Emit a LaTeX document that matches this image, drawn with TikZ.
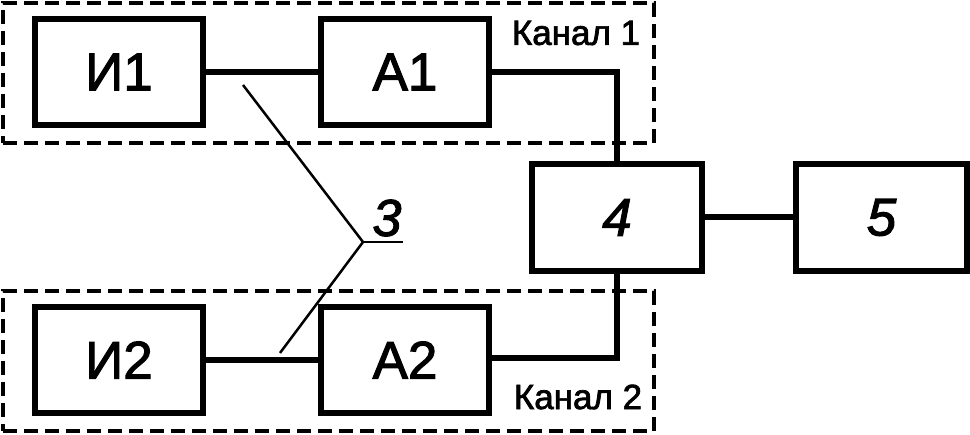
\documentclass[tikz,border=0pt]{standalone}
\usepackage{fontspec}
\setmainfont{Liberation Sans}[FakeBold=2]
\usetikzlibrary{calc}
\begin{document}
\begin{tikzpicture}[x=1pt,y=-1pt,
  blk/.style={draw, line width=6pt, inner sep=0pt, minimum width=168pt, minimum height=106pt, font=\fontsize{53}{60}\selectfont},
  chan/.style={draw, line width=4pt, dash pattern=on 14pt off 7pt, inner sep=0pt, minimum width=651pt, minimum height=140pt},
  conn/.style={line width=6pt},
  leader/.style={line width=2.5pt},
  lbl/.style={inner sep=0pt, font=\fontsize{35}{40}\selectfont}]
\useasboundingbox (0,0) rectangle (970,435);
% channel frames
\node[chan] (k1) at (328.5,73) {};
\node[chan] (k2) at (328.5,361) {};
\node[lbl] (t1) at (576,33) {Канал 1};
\node[lbl] (t2) at (578,397) {Канал 2};
% blocks
\node[blk] (i1) at (119,72) {И1};
\node[blk] (a1) at (405,72) {А1};
\node[blk] (i2) at (119,360) {И2};
\node[blk] (a2) at (405,360) {А2};
\node[blk, minimum width=170pt, minimum height=107pt, font=\fontsize{53}{60}\selectfont\itshape] (b4) at (617,217.5) {4};
\node[blk, minimum width=171pt, minimum height=107pt, font=\fontsize{53}{60}\selectfont\itshape] (b5) at (881.5,217.5) {5};
% connectors
\draw[conn] (i1) -- (a1);
\draw[conn] (i2) -- (a2);
\draw[conn] (a1.east) -| (b4.north);
\draw[conn] ($(a2.east)+(0,-2)$) -| (b4.south);
\draw[conn] (b4) -- (b5);
% leader for 3
\coordinate (v) at (363,242);
\coordinate (p1) at (243,85);
\coordinate (p2) at (280,353);
\coordinate (u) at (403,242);
\draw[leader] (p1) -- (v) -- (p2);
\draw[leader] (v) -- (u);
\node[inner sep=0pt, font=\fontsize{52}{58}\selectfont\itshape] (n3) at (387,218) {3};
\end{tikzpicture}
\end{document}
